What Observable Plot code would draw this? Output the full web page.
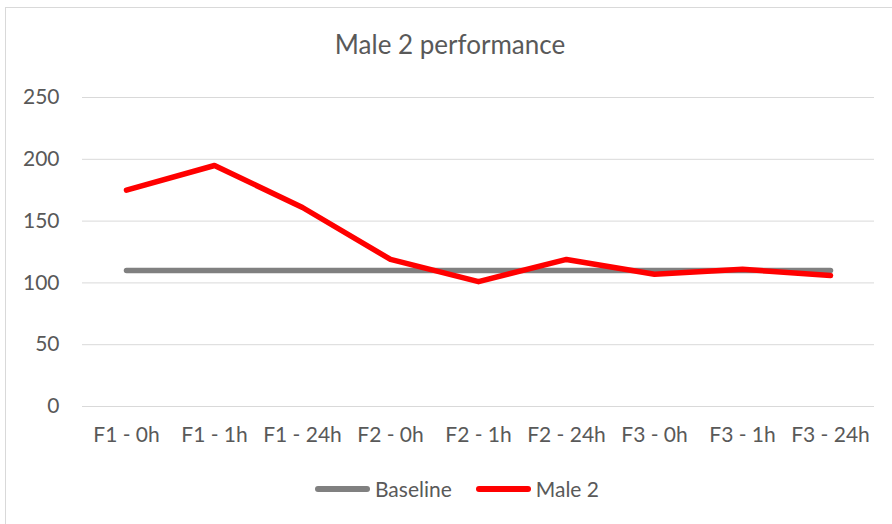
<!DOCTYPE html>
<html>
<head>
<meta charset="utf-8">
<script src="https://cdn.jsdelivr.net/npm/d3@7"></script>
<script src="https://cdn.jsdelivr.net/npm/@observablehq/plot@0.6"></script>
<style>
  html, body { margin: 0; padding: 0; background: #fff; overflow: hidden; }
  #chart { position: relative; width: 892px; height: 524px; overflow: hidden; font-family: Lato, "Open Sans", sans-serif; color: #595959; }
  #frame { position: absolute; left: 5px; top: 7px; width: 950px; height: 600px; border: 1px solid #d9d9d9; box-sizing: border-box; }
  #title { position: absolute; left: 0; width: 900px; top: 28px; text-align: center; font-size: 26px; color: #595959; }
  #plot { position: absolute; left: 0; top: 70px; }
  #legend { position: absolute; left: 0; width: 914px; top: 476px; display: flex; justify-content: center; align-items: center; font-size: 21px; color: #595959; }
  .key { display: flex; align-items: center; margin: 0 12px; }
  .swatch { width: 55px; height: 6px; border-radius: 3px; margin-right: 5px; }
</style>
</head>
<body>
<div id="chart">
  <div id="frame"></div>
  <div id="title">Male 2 performance</div>
  <div id="plot"></div>
  <div id="legend"></div>
</div>
<script>
const categories = ["F1 - 0h", "F1 - 1h", "F1 - 24h", "F2 - 0h", "F2 - 1h", "F2 - 24h", "F3 - 0h", "F3 - 1h", "F3 - 24h"];
const baseline = [110, 110, 110, 110, 110, 110, 110, 110, 110];
const male2 = [175, 195, 161, 119, 101, 119, 107, 111, 106];
const yTicks = [0, 50, 100, 150, 200, 250];
const seriesNames = ["Baseline", "Male 2"];
const seriesColors = ["#808080", "#ff0000"];

const data = [];
categories.forEach((c, i) => {
  data.push({cat: c, value: baseline[i], series: seriesNames[0]});
  data.push({cat: c, value: male2[i], series: seriesNames[1]});
});

const chart = Plot.plot({
  width: 892,
  height: 380,
  marginTop: 27,
  marginBottom: 44,
  marginLeft: 82,
  marginRight: 18,
  style: {fontFamily: "Lato, 'Open Sans', sans-serif", fontSize: "21px", color: "#595959", background: "transparent", overflow: "visible"},
  x: {type: "point", domain: categories, padding: 0.5, label: null},
  y: {domain: [0, 250], ticks: yTicks, label: null},
  color: {domain: seriesNames, range: seriesColors},
  marks: [
    Plot.gridY(yTicks, {stroke: "#d9d9d9", strokeOpacity: 1, strokeWidth: 1}),
    Plot.axisY(yTicks, {tickSize: 0, tickPadding: 23, fill: "#595959", fontSize: 21, label: null}),
    Plot.axisX({tickSize: 0, tickPadding: 21, fill: "#595959", fontSize: 21, label: null}),
    Plot.line(data, {x: "cat", y: "value", z: "series", stroke: "series", strokeWidth: 5.5, strokeLinecap: "round", strokeLinejoin: "round"})
  ]
});
document.getElementById("plot").appendChild(chart);

const legend = document.getElementById("legend");
seriesNames.forEach((n, i) => {
  const k = document.createElement("div");
  k.className = "key";
  const s = document.createElement("div");
  s.className = "swatch";
  s.style.background = seriesColors[i];
  const t = document.createElement("span");
  t.textContent = n;
  k.appendChild(s); k.appendChild(t);
  legend.appendChild(k);
});
</script>
</body>
</html>
